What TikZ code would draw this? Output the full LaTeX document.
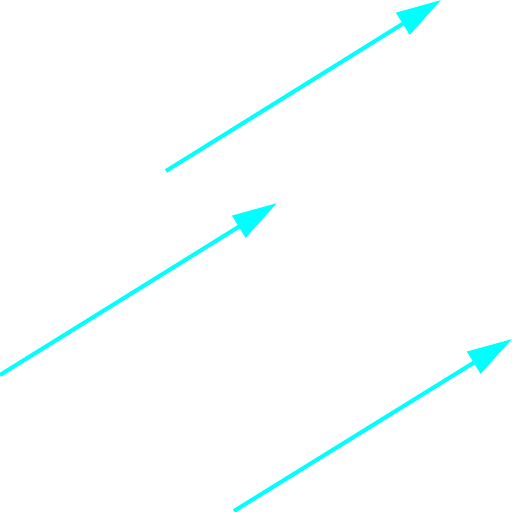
\documentclass[tikz,border=0pt]{standalone}
\usetikzlibrary{arrows.meta}
\definecolor{arrowcyan}{RGB}{0,255,255}

\begin{document}
\begin{tikzpicture}[
    x=1pt, y=-1pt,
    >={Triangle[length=45pt,width=25pt]},
    arr/.style={->, line width=4pt, color=arrowcyan}
]
    \useasboundingbox (0,0) rectangle (512,512);
    \coordinate (a1) at (166,171);
    \coordinate (b1) at (441,0);
    \coordinate (a2) at (0,375);
    \coordinate (b2) at (277,203);
    \coordinate (a3) at (234,511);
    \coordinate (b3) at (512,339);
    \draw[arr] (a1) -- (b1);
    \draw[arr] (a2) -- (b2);
    \draw[arr] (a3) -- (b3);
\end{tikzpicture}
\end{document}
